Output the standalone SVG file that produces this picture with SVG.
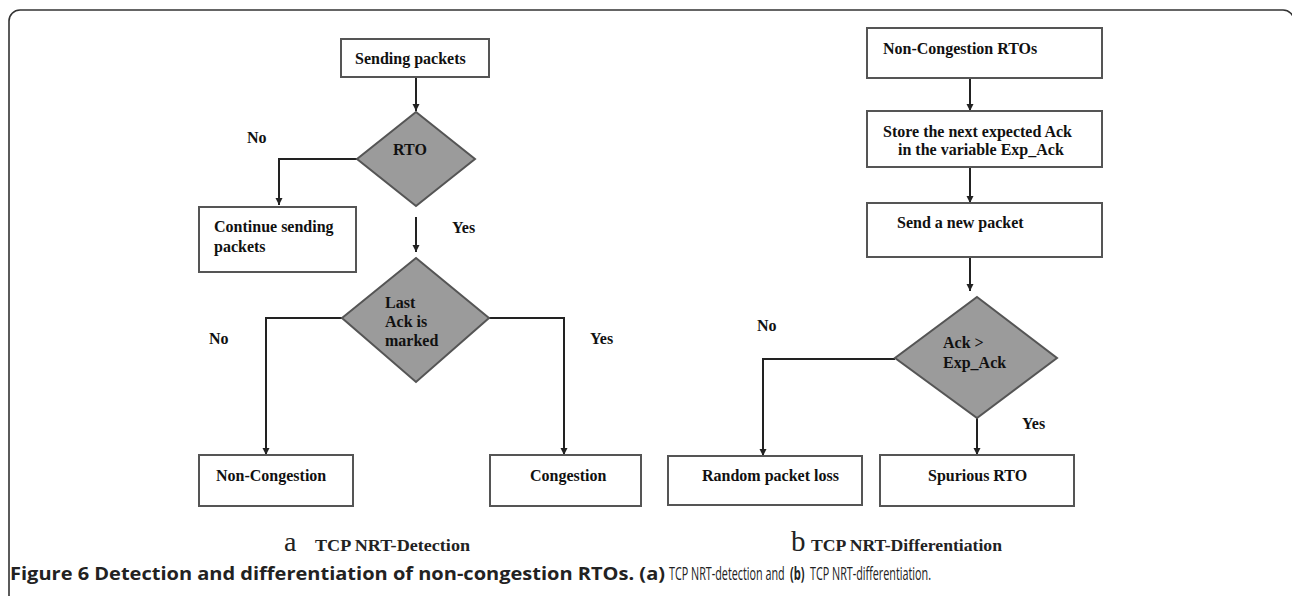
<svg xmlns="http://www.w3.org/2000/svg" width="1292" height="596" viewBox="0 0 1292 596">
<style>
.box{fill:#fff;stroke:#555;stroke-width:2}
.dia{fill:#9b9b9b;stroke:#555;stroke-width:2}
.t{font-family:"Liberation Serif","Times New Roman",serif;font-weight:bold;font-size:16px;fill:#111}
.con{fill:none;stroke:#222;stroke-width:2}
.sub{font-family:"Liberation Serif","Times New Roman",serif;fill:#222}
.cap{font-family:"Open Sans","Liberation Sans",sans-serif;font-size:18px;fill:#222}
.b{font-weight:bold}
</style>
<defs>
<marker id="arr" viewBox="0 0 10 10" refX="10" refY="5" markerWidth="7" markerHeight="8" orient="auto" markerUnits="userSpaceOnUse">
<path d="M0,0 L10,5 L0,10 z" fill="#222"/>
</marker>
</defs>
<rect x="9" y="10" width="1285" height="620" rx="11" ry="11" fill="none" stroke="#333" stroke-width="1.6"/>

<g id="connectors">
<path class="con" d="M416,77 L416,111" marker-end="url(#arr)"/>
<path class="con" d="M357,159 L279,159 L279,205" marker-end="url(#arr)"/>
<path class="con" d="M416,217 L416,252" marker-end="url(#arr)"/>
<path class="con" d="M342,318 L266,318 L266,455" marker-end="url(#arr)"/>
<path class="con" d="M489,318 L564,318 L564,455" marker-end="url(#arr)"/>
<path class="con" d="M970,78 L970,111" marker-end="url(#arr)"/>
<path class="con" d="M970,167 L970,203" marker-end="url(#arr)"/>
<path class="con" d="M970,257 L970,291" marker-end="url(#arr)"/>
<path class="con" d="M895,359 L763,359 L763,456" marker-end="url(#arr)"/>
<path class="con" d="M977,418 L977,455" marker-end="url(#arr)"/>
</g>

<g id="sending">
<rect class="box" x="341" y="39" width="148" height="38"/>
<text class="t" x="355" y="64">Sending packets</text>
</g>
<g id="rto">
<polygon class="dia" points="416,112 475,159 416,206 357,159"/>
<text class="t" x="393" y="155">RTO</text>
</g>
<g id="continue">
<rect class="box" x="199" y="207" width="157" height="65"/>
<text class="t" x="214" y="232">Continue sending</text>
<text class="t" x="214" y="252">packets</text>
</g>
<g id="lastack">
<polygon class="dia" points="416,258 489,318 416,382 342,318"/>
<text class="t" x="385" y="308">Last</text>
<text class="t" x="385" y="327">Ack is</text>
<text class="t" x="385" y="346">marked</text>
</g>
<g id="noncong">
<rect class="box" x="199" y="455" width="154" height="51"/>
<text class="t" x="216" y="481">Non-Congestion</text>
</g>
<g id="cong">
<rect class="box" x="490" y="455" width="151" height="51"/>
<text class="t" x="530" y="481">Congestion</text>
</g>
<g id="labels-a">
<text class="t" x="247" y="143">No</text>
<text class="t" x="452" y="233">Yes</text>
<text class="t" x="209" y="344">No</text>
<text class="t" x="590" y="344">Yes</text>
</g>

<g id="ncrto">
<rect class="box" x="867" y="28" width="235" height="50"/>
<text class="t" x="883" y="54">Non-Congestion RTOs</text>
</g>
<g id="store">
<rect class="box" x="867" y="111" width="235" height="56"/>
<text class="t" x="883" y="137">Store the next expected Ack</text>
<text class="t" x="898" y="155">in the variable Exp_Ack</text>
</g>
<g id="send">
<rect class="box" x="867" y="203" width="235" height="54"/>
<text class="t" x="897" y="228">Send a new packet</text>
</g>
<g id="ackexp">
<polygon class="dia" points="977,297 1057,358 977,418 895,358"/>
<text class="t" x="943" y="348">Ack &gt;</text>
<text class="t" x="943" y="368">Exp_Ack</text>
</g>
<g id="random">
<rect class="box" x="668" y="456" width="194" height="49"/>
<text class="t" x="702" y="481">Random packet loss</text>
</g>
<g id="spurious">
<rect class="box" x="880" y="455" width="194" height="51"/>
<text class="t" x="928" y="481">Spurious RTO</text>
</g>
<g id="labels-b">
<text class="t" x="757" y="331">No</text>
<text class="t" x="1022" y="429">Yes</text>
</g>

<g id="captions">
<text class="sub" x="284" y="551" font-size="28">a</text>
<text class="sub" x="315" y="551" font-size="16" font-weight="bold" textLength="155" lengthAdjust="spacingAndGlyphs">TCP NRT-Detection</text>
<text class="sub" x="791" y="551" font-size="29">b</text>
<text class="sub" x="811" y="551" font-size="16" font-weight="bold" textLength="191" lengthAdjust="spacingAndGlyphs">TCP NRT-Differentiation</text>
<text class="cap b" x="10" y="580" textLength="655" lengthAdjust="spacingAndGlyphs">Figure 6 Detection and differentiation of non-congestion RTOs. (a)</text>
<text class="cap" transform="translate(669 580) scale(0.6 1)" x="0" y="0">TCP NRT-detection and</text>
<text class="cap b" transform="translate(790 580) scale(0.62 1)" x="0" y="0">(b)</text>
<text class="cap" transform="translate(810 580) scale(0.6 1)" x="0" y="0">TCP NRT-differentiation.</text>
</g>
</svg>
